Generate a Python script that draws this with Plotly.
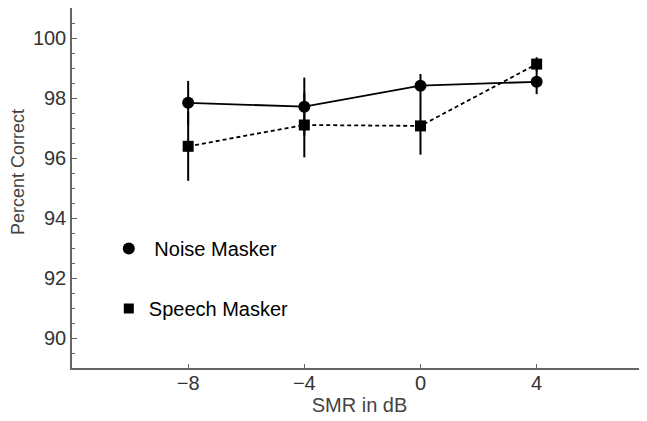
import plotly.graph_objects as go

smr = [-8, -4, 0, 4]
noise_pc = [97.84, 97.71, 98.41, 98.54]
noise_err = [0.73, 0.97, 0.39, 0.41]
speech_pc = [96.39, 97.10, 97.07, 99.13]
speech_err = [1.15, 1.08, 0.96, 0.23]
x_ticks = [-8, -4, 0, 4]
x_tick_text = ["\u22128", "\u22124", "0", "4"]
y_ticks = [90, 92, 94, 96, 98, 100]

fig = go.Figure()
fig.add_trace(go.Scatter(
    x=smr, y=speech_pc, mode="lines+markers", showlegend=False,
    line=dict(color="black", width=1.8, dash="4px,3px"),
    marker=dict(symbol="square", size=11, color="black"),
    error_y=dict(type="data", array=speech_err, visible=True,
                 color="black", thickness=2, width=0),
))
fig.add_trace(go.Scatter(
    x=smr, y=noise_pc, mode="lines+markers", showlegend=False,
    line=dict(color="black", width=1.8),
    marker=dict(symbol="circle", size=12, color="black"),
    error_y=dict(type="data", array=noise_err, visible=True,
                 color="black", thickness=2, width=0),
))
# legend-only entries (markers only)
fig.add_trace(go.Scatter(x=[None], y=[None], mode="markers", name="\u00a0Noise Masker",
                         legendgroup="n", marker=dict(symbol="circle", size=12, color="black")))
fig.add_trace(go.Scatter(x=[None], y=[None], mode="markers", name="Speech Masker",
                         legendgroup="s", marker=dict(symbol="square", size=10, color="black")))

FONT = "Liberation Sans, Arial, sans-serif"
axis_font = dict(family=FONT, size=20, color="#333333")
# page body has an 8px default margin, so the figure is 8px smaller
fig.update_layout(
    width=639, height=413,
    margin=dict(l=64, r=0, t=0, b=53, autoexpand=False),
    paper_bgcolor="white", plot_bgcolor="white",
    showlegend=True,
    legend=dict(x=0.064, y=0.386, xanchor="left", yanchor="top",
                bgcolor="rgba(0,0,0,0)", tracegroupgap=31,
                font=dict(family=FONT, size=20, color="black")),
    xaxis=dict(range=[-12, 7.8], tickvals=x_ticks, ticktext=x_tick_text,
               ticks="inside", ticklen=4, tickwidth=1, tickcolor="#666666",
               ticklabelstandoff=-4,
               showline=True, linecolor="#666666", linewidth=1.5, mirror=True,
               showgrid=False, zeroline=False, tickfont=axis_font, automargin=False,
               title=dict(text="SMR in dB", font=dict(family=FONT, size=20, color="#444444"), standoff=4)),
    yaxis=dict(range=[89, 101], tickvals=y_ticks,
               ticks="inside", ticklen=5, tickwidth=1, tickcolor="#666666",
               minor=dict(dtick=0.5, ticks="inside", ticklen=3, tickcolor="#666666"),
               showline=True, linecolor="#666666", linewidth=1.5, mirror=False,
               showgrid=False, zeroline=False, tickfont=axis_font, automargin=False),
    annotations=[dict(text="Percent Correct", textangle=-90, xref="paper", yref="paper",
                      x=-0.094, y=0.544, xanchor="center", yanchor="middle", showarrow=False,
                      font=dict(family=FONT, size=18, color="#444444"))],
)
fig.write_html("out.html")
